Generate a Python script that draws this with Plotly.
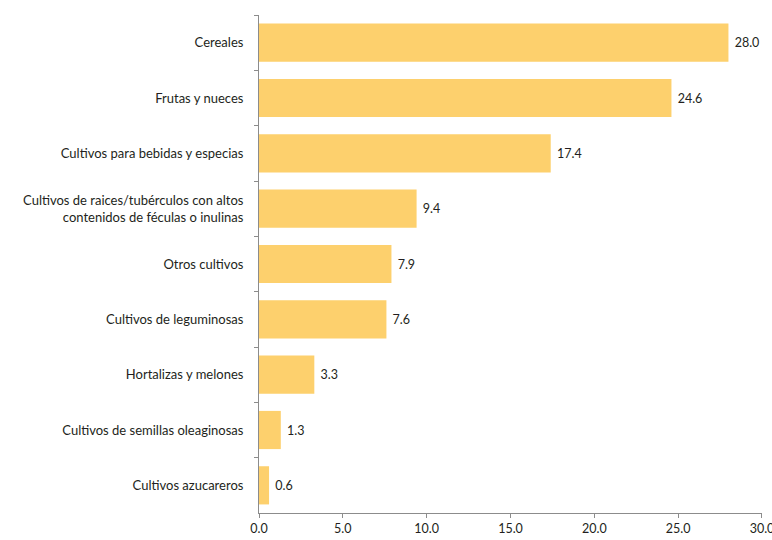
import plotly.graph_objects as go

categories = [
    "Cereales",
    "Frutas y nueces",
    "Cultivos para bebidas y especias",
    "Cultivos de raices/tubérculos con altos<br>contenidos de féculas o inulinas",
    "Otros cultivos",
    "Cultivos de leguminosas",
    "Hortalizas y melones",
    "Cultivos de semillas oleaginosas",
    "Cultivos azucareros",
]
values = [28.0, 24.6, 17.4, 9.4, 7.9, 7.6, 3.3, 1.3, 0.6]
x_ticks = [0, 5, 10, 15, 20, 25, 30]
x_tick_labels = ["0.0", "5.0", "10.0", "15.0", "20.0", "25.0", "30.0"]

fig = go.Figure(go.Bar(
    y=categories,
    x=values,
    orientation="h",
    marker=dict(color="#FDD06D", line=dict(width=0)),
    width=0.69,
    text=["\u00a0" + f"{v:.1f}" for v in values],
    textposition="outside",
    textfont=dict(size=12.5, color="#231F20"),
    cliponaxis=False,
))

fig.update_layout(
    width=772, height=540,
    margin=dict(l=259, r=10, t=15, b=27, autoexpand=False),
    paper_bgcolor="white", plot_bgcolor="white",
    font=dict(family="Lato, Noto Sans, sans-serif", size=13, color="#231F20"),
    showlegend=False,
)
fig.update_xaxes(
    range=[0, 30.001],
    tickvals=x_ticks, ticktext=x_tick_labels,
    showgrid=False, zeroline=False,
    showline=True, linecolor="#8C8C8C", linewidth=1,
    ticks="outside", ticklen=4, tickcolor="#8C8C8C",
    tickfont=dict(size=12.5, color="#231F20"),
    ticklabeloverflow="allow",
    automargin=False,
)
fig.update_yaxes(
    autorange="reversed",
    showgrid=False, zeroline=False,
    showline=True, linecolor="#8C8C8C", linewidth=1,
    ticks="outside", ticklen=4, tickcolor="#8C8C8C",
    tickson="boundaries",
    ticklabelstandoff=12,
    tickfont=dict(size=13, color="#231F20"),
    automargin=False,
)

fig.write_html(
    "out.html",
    config={"displayModeBar": False},
    post_script="document.body.style.margin='0';document.body.style.overflow='hidden';",
)
